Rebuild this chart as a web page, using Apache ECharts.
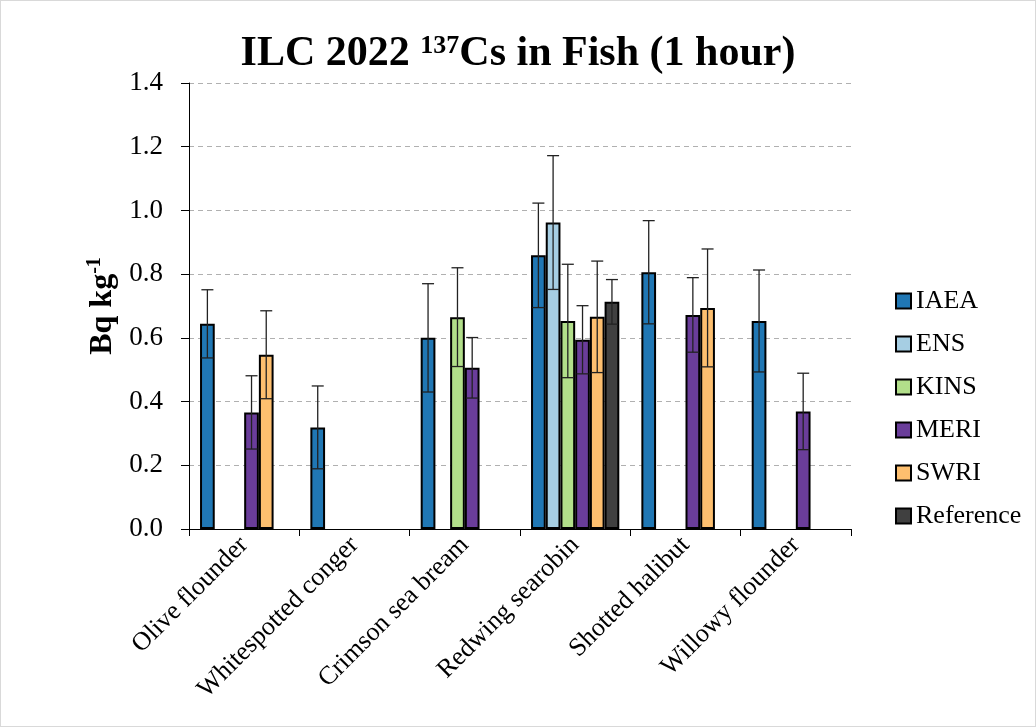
<!DOCTYPE html>
<html lang="en">
<head>
    <meta charset="UTF-8">
    <title>ILC 2022 Cs-137 in Fish</title>
    <style>
        * {
            margin: 0;
            padding: 0;
            box-sizing: border-box;
        }

        html,
        body {
            width: 100%;
            height: 100%;
            background: #fff;
        }

        .box {
            width: 1036px;
            height: 727px;
            border: 1px solid #d9d9d9;
        }
    </style>
</head>
<body>
    <div class="box"></div>
    <script src="https://cdn.jsdelivr.net/npm/echarts@6/dist/echarts.min.js"></script>
    <script>
        // 分类
        const categories = ['Olive flounder', 'Whitespotted conger', 'Crimson sea bream', 'Redwing searobin', 'Shotted halibut', 'Willowy flounder']
        const yTicks = [0, 0.2, 0.4, 0.6, 0.8, 1.0, 1.2, 1.4]

        // 各机构测量值 (null = 无数据)
        const iaea = [0.644, 0.319, 0.600, 0.859, 0.806, 0.653]
        const ens = [null, null, null, 0.962, null, null]
        const kins = [null, null, 0.665, 0.653, null, null]
        const meri = [0.366, null, 0.506, 0.594, 0.672, 0.369]
        const swri = [0.547, null, null, 0.666, 0.694, null]
        const reference = [null, null, null, 0.713, null, null]

        // 误差 (±)
        const iaeaErr = [0.107, 0.130, 0.170, 0.164, 0.162, 0.160]
        const ensErr = [null, null, null, 0.210, null, null]
        const kinsErr = [null, null, 0.155, 0.178, null, null]
        const meriErr = [0.115, null, 0.095, 0.107, 0.117, 0.120]
        const swriErr = [0.138, null, null, 0.175, 0.185, null]
        const referenceErr = [null, null, null, 0.070, null, null]

        const groups = [
            { name: 'IAEA', color: '#2077b4', values: iaea, errs: iaeaErr },
            { name: 'ENS', color: '#a6cee3', values: ens, errs: ensErr },
            { name: 'KINS', color: '#b2df8a', values: kins, errs: kinsErr },
            { name: 'MERI', color: '#6a3d9a', values: meri, errs: meriErr },
            { name: 'SWRI', color: '#fdbf6f', values: swri, errs: swriErr },
            { name: 'Reference', color: '#404040', values: reference, errs: referenceErr }
        ]

        const serif = '"Liberation Serif", "Times New Roman", serif'
        const nGroups = groups.length
        const catGap = 0.2

        let chart = echarts.init(document.querySelector('.box'))

        let series = []
        groups.forEach(function (g) {
            series.push({
                name: g.name,
                type: 'bar',
                barGap: '0%',
                barCategoryGap: '20%',
                itemStyle: {
                    color: g.color,
                    borderColor: '#000',
                    borderWidth: 2
                },
                data: g.values.map(v => v === null ? '-' : v),
                z: 2
            })
        })

        // 误差线
        groups.forEach(function (g, k) {
            let errData = []
            g.values.forEach(function (v, i) {
                if (v !== null) errData.push([i, v - g.errs[i], v + g.errs[i]])
            })
            series.push({
                type: 'custom',
                name: g.name + ' err',
                z: 3,
                silent: true,
                encode: { x: 0, y: [1, 2] },
                renderItem: function (params, api) {
                    let ci = api.value(0)
                    let band = api.size([1, 0])[0]
                    let barW = band * (1 - catGap) / nGroups
                    let base = api.coord([ci, 0])
                    let x = base[0] - band * (1 - catGap) / 2 + (k + 0.5) * barW
                    let yHi = api.coord([ci, api.value(2)])[1]
                    let yLo = api.coord([ci, api.value(1)])[1]
                    let half = 6
                    let st = { stroke: '#222', lineWidth: 1.3 }
                    return {
                        type: 'group',
                        children: [
                            { type: 'line', shape: { x1: x, y1: yHi, x2: x, y2: yLo }, style: st },
                            { type: 'line', shape: { x1: x - half, y1: yHi, x2: x + half, y2: yHi }, style: st },
                            { type: 'line', shape: { x1: x - half, y1: yLo, x2: x + half, y2: yLo }, style: st }
                        ]
                    }
                },
                data: errData
            })
        })

        const option = {
            animation: false,
            textStyle: { fontFamily: serif },
            title: {
                text: 'ILC 2022 {sup|137}Cs in Fish (1 hour)',
                left: 512,
                top: 27,
                textAlign: 'center',
                textStyle: {
                    fontFamily: serif,
                    fontSize: 42,
                    fontWeight: 'bold',
                    color: '#000',
                    rich: {
                        sup: {
                            fontFamily: serif,
                            fontSize: 26,
                            fontWeight: 'bold',
                            color: '#000',
                            verticalAlign: 'top',
                            padding: [0, 0, 16, 0]
                        }
                    }
                }
            },
            legend: {
                orient: 'vertical',
                left: 889,
                top: 282,
                itemWidth: 15,
                itemHeight: 15,
                itemGap: 17,
                icon: 'rect',
                data: groups.map(g => g.name),
                textStyle: { fontFamily: serif, fontSize: 26, color: '#000' }
            },
            grid: {
                left: 188,
                right: 184,
                top: 82,
                bottom: 197
            },
            xAxis: {
                type: 'category',
                data: categories,
                axisLine: { lineStyle: { color: '#000', width: 1 } },
                axisTick: { show: true, alignWithLabel: false, length: 7, lineStyle: { color: '#000' } },
                axisLabel: {
                    rotate: 45,
                    margin: 12,
                    interval: 0,
                    fontFamily: serif,
                    fontSize: 26,
                    color: '#000'
                }
            },
            yAxis: {
                type: 'value',
                min: yTicks[0],
                max: yTicks[yTicks.length - 1],
                interval: 0.2,
                name: 'Bq kg{sup|-1}',
                nameLocation: 'middle',
                nameRotate: 90,
                nameGap: 69,
                nameTextStyle: {
                    fontFamily: serif,
                    fontSize: 32,
                    fontWeight: 'bold',
                    color: '#000',
                    rich: {
                        sup: {
                            fontFamily: serif,
                            fontSize: 20,
                            fontWeight: 'bold',
                            color: '#000',
                            verticalAlign: 'top',
                            padding: [0, 0, 15, 0]
                        }
                    }
                },
                axisLine: { show: true, lineStyle: { color: '#000', width: 1 } },
                axisTick: { show: true, length: 8, lineStyle: { color: '#000' } },
                axisLabel: {
                    margin: 26,
                    fontFamily: serif,
                    fontSize: 27,
                    color: '#000',
                    formatter: v => v.toFixed(1)
                },
                splitLine: {
                    show: true,
                    lineStyle: { color: '#b0b0b0', type: [5, 4], width: 1 }
                }
            },
            series: series
        }
        chart.setOption(option)
    </script>
</body>
</html>
